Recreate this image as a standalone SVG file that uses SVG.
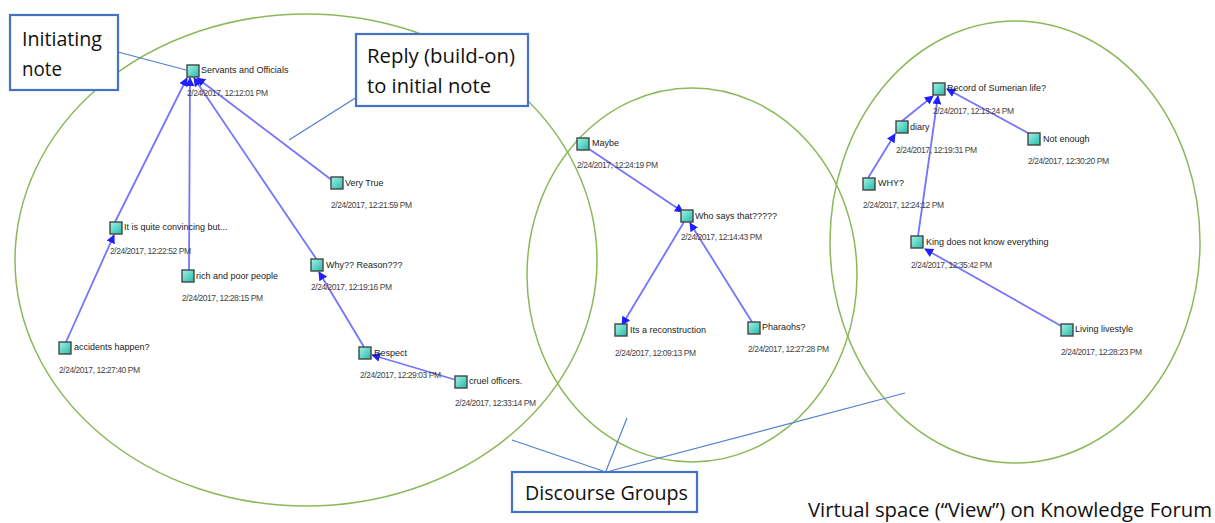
<svg xmlns="http://www.w3.org/2000/svg" width="1215" height="523" viewBox="0 0 1215 523">
<defs>
<linearGradient id="tg" x1="0" y1="0" x2="1" y2="1">
<stop offset="0" stop-color="#9ff5e8"/>
<stop offset="1" stop-color="#28b8a8"/>
</linearGradient>
<marker id="ah" viewBox="0 0 10 10" refX="9" refY="5" markerWidth="5" markerHeight="5" orient="auto" markerUnits="strokeWidth">
<path d="M0,0 L10,5 L0,10 z" fill="#1f1fff"/>
</marker>
<style>
.grp{fill:none;stroke:#8cb85a;stroke-width:1.5}
.call{fill:#fff;stroke:#4472c4;stroke-width:2.2}
.lead{stroke:#4f7fcf;stroke-width:1.2;fill:none}
.big{font-family:"Open Sans","Liberation Sans",sans-serif;font-size:20px;fill:#111}
.ic{fill:url(#tg);stroke:#444;stroke-width:1.4}
.lb{font-family:"Liberation Sans",Arial,sans-serif;font-size:9px;fill:#222}
.dt{font-family:"Liberation Sans",Arial,sans-serif;font-size:8.5px;fill:#444}
.ln{stroke:#7474ff;stroke-width:1.8;fill:none;marker-end:url(#ah)}
</style>
</defs>
<rect width="1215" height="523" fill="#fff"/>
<g id="groups">
<ellipse class="grp" cx="306" cy="260" rx="291" ry="246"/>
<ellipse class="grp" cx="692" cy="275" rx="165" ry="187"/>
<ellipse class="grp" cx="1015" cy="242" rx="185" ry="221"/>
</g>
<g id="connectors">
<line class="ln" x1="333" y1="181" x2="197" y2="78"/>
<line class="ln" x1="317" y1="260" x2="194" y2="78"/>
<line class="ln" x1="189" y1="270" x2="190" y2="78"/>
<line class="ln" x1="115" y1="222" x2="187" y2="78"/>
<line class="ln" x1="66" y1="342" x2="114" y2="235"/>
<line class="ln" x1="364" y1="347" x2="319" y2="272"/>
<line class="ln" x1="456" y1="380" x2="372" y2="355"/>
<line class="ln" x1="589" y1="149" x2="683" y2="212"/>
<line class="ln" x1="684" y1="222" x2="622" y2="325"/>
<line class="ln" x1="752" y1="322" x2="690" y2="223"/>
<line class="ln" x1="902" y1="121" x2="933" y2="96"/>
<line class="ln" x1="1030" y1="134" x2="947" y2="89"/>
<line class="ln" x1="868" y1="178" x2="895" y2="134"/>
<line class="ln" x1="918" y1="236" x2="938" y2="96"/>
<line class="ln" x1="1063" y1="327" x2="925" y2="249"/>
</g>
<g id="callouts">
<g id="c-init">
<rect class="call" x="10" y="15" width="108" height="75"/>
<text class="big" x="22" y="46" textLength="80" lengthAdjust="spacingAndGlyphs">Initiating</text>
<text class="big" x="22" y="76" textLength="40" lengthAdjust="spacingAndGlyphs">note</text>
<line class="lead" x1="118" y1="52" x2="186" y2="70"/>
</g>
<g id="c-reply">
<rect class="call" x="356" y="34" width="172" height="72"/>
<text class="big" x="367" y="63" textLength="148" lengthAdjust="spacingAndGlyphs">Reply (build-on)</text>
<text class="big" x="367" y="93" textLength="124" lengthAdjust="spacingAndGlyphs">to initial note</text>
<line class="lead" x1="357" y1="97" x2="289" y2="140"/>
</g>
<g id="c-groups">
<rect class="call" x="512" y="472" width="185" height="40"/>
<text class="big" x="525" y="500" textLength="163" lengthAdjust="spacingAndGlyphs">Discourse Groups</text>
<line class="lead" x1="603" y1="471" x2="512" y2="440"/>
<line class="lead" x1="606" y1="471" x2="627" y2="418"/>
<line class="lead" x1="610" y1="471" x2="905" y2="393"/>
</g>
<text id="caption" class="big" x="808" y="517" font-size="19" textLength="404" lengthAdjust="spacingAndGlyphs">Virtual space (“View”) on Knowledge Forum</text>
</g>
<g id="n1"><rect class="ic" x="187" y="65" width="12" height="12"/><text class="lb" x="201" y="73">Servants and Officials</text><text class="dt" x="187" y="96" textLength="81">2/24/2017, 12:12:01 PM</text></g>
<g id="n2"><rect class="ic" x="110" y="222" width="12" height="12"/><text class="lb" x="124" y="230">It is quite convincing but...</text><text class="dt" x="110" y="254" textLength="81">2/24/2017, 12:22:52 PM</text></g>
<g id="n3"><rect class="ic" x="182" y="270" width="12" height="12"/><text class="lb" x="196" y="279">rich and poor people</text><text class="dt" x="182" y="301" textLength="81">2/24/2017, 12:28:15 PM</text></g>
<g id="n4"><rect class="ic" x="59" y="342" width="12" height="12"/><text class="lb" x="74" y="350">accidents happen?</text><text class="dt" x="59" y="373" textLength="81">2/24/2017, 12:27:40 PM</text></g>
<g id="n5"><rect class="ic" x="331" y="177" width="12" height="12"/><text class="lb" x="345" y="186">Very True</text><text class="dt" x="331" y="208" textLength="81">2/24/2017, 12:21:59 PM</text></g>
<g id="n6"><rect class="ic" x="311" y="259" width="12" height="12"/><text class="lb" x="326" y="268">Why?? Reason???</text><text class="dt" x="311" y="290" textLength="81">2/24/2017, 12:19:16 PM</text></g>
<g id="n7"><rect class="ic" x="359" y="347" width="12" height="12"/><text class="lb" x="374" y="356">Respect</text><text class="dt" x="360" y="378" textLength="81">2/24/2017, 12:29:03 PM</text></g>
<g id="n8"><rect class="ic" x="455" y="376" width="12" height="12"/><text class="lb" x="469" y="384">cruel officers.</text><text class="dt" x="455" y="406" textLength="81">2/24/2017, 12:33:14 PM</text></g>
<g id="n9"><rect class="ic" x="577" y="138" width="12" height="12"/><text class="lb" x="592" y="146">Maybe</text><text class="dt" x="577" y="168" textLength="81">2/24/2017, 12:24:19 PM</text></g>
<g id="n10"><rect class="ic" x="681" y="210" width="12" height="12"/><text class="lb" x="695" y="219">Who says that?????</text><text class="dt" x="681" y="240" textLength="81">2/24/2017, 12:14:43 PM</text></g>
<g id="n11"><rect class="ic" x="615" y="324" width="12" height="12"/><text class="lb" x="630" y="333">Its a reconstruction</text><text class="dt" x="615" y="356" textLength="81">2/24/2017, 12:09:13 PM</text></g>
<g id="n12"><rect class="ic" x="748" y="322" width="12" height="12"/><text class="lb" x="762" y="330">Pharaohs?</text><text class="dt" x="748" y="352" textLength="81">2/24/2017, 12:27:28 PM</text></g>
<g id="n13"><rect class="ic" x="933" y="83" width="12" height="12"/><text class="lb" x="947" y="91">Record of Sumerian life?</text><text class="dt" x="933" y="114" textLength="81">2/24/2017, 12:13:24 PM</text></g>
<g id="n14"><rect class="ic" x="896" y="121" width="12" height="12"/><text class="lb" x="910" y="130">diary</text><text class="dt" x="896" y="153" textLength="81">2/24/2017, 12:19:31 PM</text></g>
<g id="n15"><rect class="ic" x="1028" y="133" width="12" height="12"/><text class="lb" x="1043" y="142">Not enough</text><text class="dt" x="1028" y="164" textLength="81">2/24/2017, 12:30:20 PM</text></g>
<g id="n16"><rect class="ic" x="863" y="178" width="12" height="12"/><text class="lb" x="878" y="186">WHY?</text><text class="dt" x="863" y="208" textLength="81">2/24/2017, 12:24:12 PM</text></g>
<g id="n17"><rect class="ic" x="911" y="236" width="12" height="12"/><text class="lb" x="926" y="245">King does not know everything</text><text class="dt" x="911" y="268" textLength="81">2/24/2017, 12:35:42 PM</text></g>
<g id="n18"><rect class="ic" x="1061" y="324" width="12" height="12"/><text class="lb" x="1075" y="332">Living livestyle</text><text class="dt" x="1061" y="355" textLength="81">2/24/2017, 12:28:23 PM</text></g>
</svg>
